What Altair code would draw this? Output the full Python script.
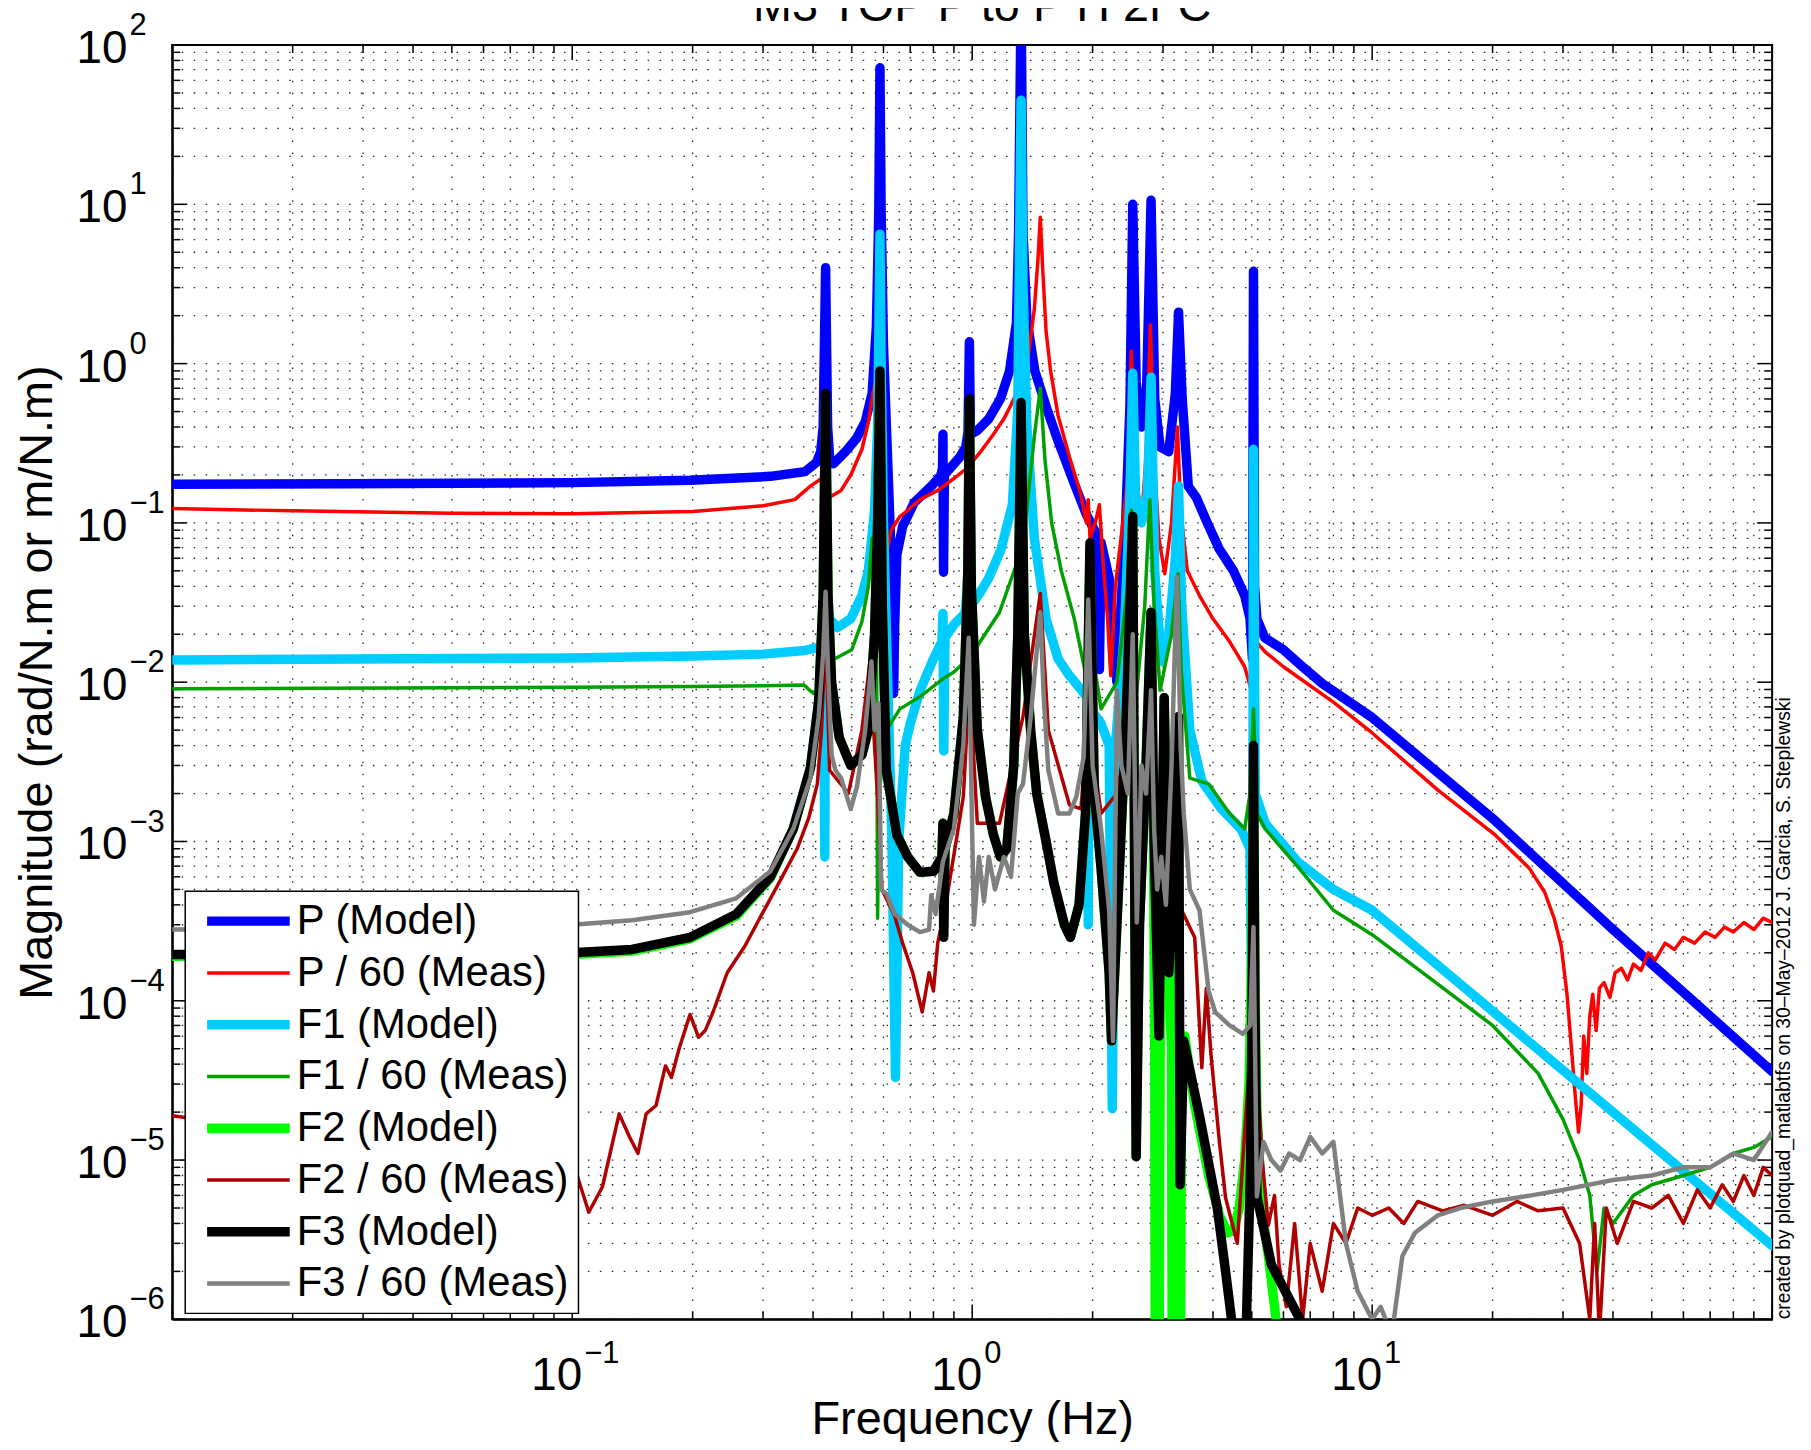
import altair as alt
import pandas as pd

W, H = 1607, 1280
FONT = "Liberation Sans"

TITLE = "M3 TOP P to P H 2FC"
X_TITLE = "Frequency (Hz)"
Y_TITLE = "Magnitude (rad/N.m or m/N.m)"
CREDIT = "created by plotquad_matlabtfs on 30\u2013May\u20132012 J. Garcia, S. Steplewski"

SERIES = ["P (Model)", "P / 60 (Meas)", "F1 (Model)", "F1 / 60 (Meas)",
          "F2 (Model)", "F2 / 60 (Meas)", "F3 (Model)", "F3 / 60 (Meas)"]
COLORS = ["#0000FF", "#FF0000", "#00CCFF", "#00A000",
          "#00FF00", "#B00000", "#000000", "#808080"]
WIDTHS = [9.5, 3.5, 9.5, 3.5, 9.5, 3.5, 9.5, 4.5]

# tick labels: base "10" with exponent
X_LABELS = [0.1, 1, 10]
X_EXP = ["\u22121", "0", "1"]
Y_LABELS = [1e-6, 1e-5, 1e-4, 1e-3, 1e-2, 1e-1, 1, 10, 100]
Y_EXP = ["\u22126", "\u22125", "\u22124", "\u22123", "\u22122", "\u22121", "0", "1", "2"]
X_DECADES = [0.01, 0.1, 1, 10, 100]
Y_DECADES = [1e-6, 1e-5, 1e-4, 1e-3, 1e-2, 1e-1, 1, 10, 100]
X_MINOR = [k * d for d in X_DECADES[:-1] for k in range(2, 10)]
Y_MINOR = [k * d for d in Y_DECADES[:-1] for k in range(2, 10)]

P_MODEL = [(0.01,0.175),(0.027,0.176),(0.1,0.179),(0.197,0.185),(0.313,0.196),(0.382,0.21),
    (0.408,0.24),(0.418,0.28),(0.424,0.4),(0.43,4.0),(0.435,0.4),(0.441,0.24),(0.45,0.235),
    (0.482,0.28),(0.514,0.34),(0.54,0.43),(0.562,0.65),(0.576,1.7),(0.584,9.0),(0.588,72),
    (0.592,9.0),(0.6,1.3),(0.612,0.33),(0.624,0.088),(0.632,0.023),(0.636,0.0085),(0.64,0.023),
    (0.648,0.063),(0.67,0.095),(0.716,0.134),(0.79,0.17),(0.833,0.196),(0.843,0.22),(0.845,0.36),
    (0.848,0.049),(0.852,0.2),(0.932,0.26),(0.964,0.3),(0.976,0.37),(0.984,1.37),(0.99,0.36),
    (1.03,0.38),(1.1,0.45),(1.176,0.6),(1.24,0.9),(1.29,1.8),(1.306,6.6),(1.325,200),(1.34,6.6),
    (1.37,1.9),(1.434,0.9),(1.533,0.53),(1.637,0.33),(1.81,0.17),(1.93,0.113),(2.03,0.088),
    (2.07,0.075),(2.08,0.012),(2.1,0.075),(2.2,0.045),(2.3,0.01),(2.42,0.104),(2.48,0.55),
    (2.52,10),(2.57,0.77),(2.65,0.4),(2.73,0.7),(2.8,10.6),(2.86,0.6),(2.95,0.3),(3.1,0.28),
    (3.22,0.65),(3.28,2.1),(3.35,0.6),(3.47,0.17),(3.63,0.145),(3.87,0.1),(4.14,0.069),(4.5,0.05),
    (4.8,0.035),(4.95,0.025),(5.02,0.014),(5.05,3.8),(5.08,0.04),(5.15,0.025),(5.39,0.019),
    (6.0,0.016),(6.58,0.013),(7.51,0.0098),(10,0.006),(20.3,0.00135),(40,2.8e-4),(100,3.6e-5)]

P_MEAS = [(0.01,0.123),(0.02,0.119),(0.05,0.115),(0.1,0.114),(0.2,0.118),(0.3,0.128),(0.36,0.14),
    (0.394,0.17),(0.42,0.19),(0.428,0.15),(0.44,0.145),(0.47,0.16),(0.497,0.2),(0.53,0.29),
    (0.55,0.43),(0.565,0.65),(0.575,0.82),(0.582,0.6),(0.59,0.2),(0.598,0.08),(0.603,0.054),
    (0.627,0.09),(0.66,0.11),(0.69,0.12),(0.74,0.14),(0.82,0.16),(0.9,0.19),(0.97,0.22),(1.05,0.28),
    (1.13,0.36),(1.2,0.45),(1.25,0.55),(1.3,0.68),(1.33,0.72),(1.38,1.1),(1.43,2.2),(1.46,4.5),
    (1.48,8.3),(1.5,4.0),(1.53,1.6),(1.57,0.9),(1.64,0.47),(1.75,0.26),(1.87,0.15),(1.93,0.1),
    (1.95,0.14),(1.97,0.08),(2.03,0.1),(2.08,0.13),(2.12,0.06),(2.18,0.025),(2.22,0.011),(2.28,0.04),
    (2.38,0.1),(2.45,0.2),(2.5,1.2),(2.55,0.25),(2.65,0.1),(2.73,0.3),(2.79,1.75),(2.84,0.3),
    (2.93,0.08),(3.03,0.048),(3.15,0.1),(3.26,0.4),(3.32,0.12),(3.45,0.05),(3.7,0.035),(4.0,0.025),
    (4.4,0.018),(4.8,0.0125),(4.98,0.009),(5.05,0.025),(5.12,0.018),(5.4,0.0155),(6.0,0.0125),
    (7.0,0.0095),(8.0,0.0075),(10,0.0048),(14.6,0.0021),(20.3,0.0011),(24.7,6.8e-4),(27,4.8e-4),
    (28.5,3.3e-4),(29.7,2.2e-4),(30.7,1.1e-4),(31.5,5e-5),(32.2,2.5e-5),(32.8,1.5e-5),(33.3,2.2e-5),
    (33.8,6e-5),(34.4,3.5e-5),(35,8e-5),(35.6,1.1e-4),(36.3,6.5e-5),(37,1.2e-4),(38,1.3e-4),
    (39.3,1.05e-4),(40.5,1.5e-4),(42,1.6e-4),(43.5,1.35e-4),(45,1.7e-4),(47,1.55e-4),(49,2.0e-4),
    (51,1.8e-4),(54,2.3e-4),(57,2.1e-4),(60,2.5e-4),(64,2.3e-4),(68,2.7e-4),(72,2.5e-4),(76,2.9e-4),
    (80,2.7e-4),(85,3.1e-4),(90,2.8e-4),(95,3.3e-4),(100,3.1e-4)]

F1_MODEL = [(0.01,0.0138),(0.1,0.0142),(0.2,0.0146),(0.3,0.015),(0.38,0.0158),(0.41,0.0165),
    (0.42,0.017),(0.425,0.012),(0.428,8e-4),(0.43,0.3),(0.433,0.04),(0.44,0.025),(0.46,0.022),
    (0.497,0.025),(0.53,0.035),(0.55,0.05),(0.57,0.12),(0.58,0.4),(0.585,2.0),(0.588,6.5),
    (0.592,1.0),(0.6,0.1),(0.615,0.01),(0.63,0.001),(0.643,3.3e-5),(0.655,0.001),(0.68,0.004),
    (0.7,0.0055),(0.74,0.0088),(0.8,0.014),(0.84,0.018),(0.845,0.027),(0.849,0.0037),(0.855,0.019),
    (0.9,0.023),(0.96,0.027),(0.984,0.06),(0.99,0.03),(1.05,0.037),(1.1,0.045),(1.18,0.068),
    (1.26,0.13),(1.3,0.5),(1.325,45),(1.34,3),(1.37,0.4),(1.43,0.08),(1.53,0.025),(1.64,0.014),
    (1.75,0.011),(1.87,0.009),(1.94,0.008),(1.95,3e-4),(1.96,0.007),(2.1,0.0055),(2.2,0.004),
    (2.24,2.1e-5),(2.28,0.004),(2.4,0.02),(2.48,0.15),(2.52,0.87),(2.56,0.15),(2.65,0.1),
    (2.74,0.15),(2.8,0.82),(2.86,0.05),(2.97,0.0135),(3.1,0.02),(3.22,0.06),(3.28,0.17),(3.34,0.03),
    (3.5,0.005),(3.75,0.0024),(4.2,0.0016),(4.7,0.0012),(4.95,9e-4),(5.02,3.8e-5),(5.05,0.29),
    (5.1,0.002),(5.4,0.0013),(6.5,7.5e-4),(8.0,5e-4),(10,3.7e-4),(20,8.6e-5),(50,1.25e-5),(100,2.9e-6)]

F1_MEAS = [(0.01,0.0091),(0.1,0.0093),(0.2,0.0094),(0.3,0.0095),(0.38,0.0096),(0.394,0.0088),
    (0.41,0.0082),(0.42,0.008),(0.43,0.02),(0.44,0.0135),(0.5,0.016),(0.53,0.024),(0.55,0.04),
    (0.562,0.08),(0.57,0.035),(0.577,0.0135),(0.58,3.3e-4),(0.585,0.002),(0.61,0.005),(0.66,0.0068),
    (0.74,0.0081),(0.845,0.0105),(0.9,0.0116),(0.99,0.0145),(1.17,0.0275),(1.34,0.072),(1.43,0.35),
    (1.48,0.7),(1.52,0.25),(1.58,0.1),(1.67,0.05),(1.8,0.025),(1.94,0.01),(2.0,0.015),(2.1,0.0068),
    (2.3,0.01),(2.45,0.04),(2.5,0.12),(2.57,0.0081),(2.7,0.03),(2.78,0.14),(2.85,0.03),(2.95,0.0089),
    (3.15,0.02),(3.27,0.048),(3.33,0.012),(3.5,0.0025),(3.9,0.0023),(4.4,0.0015),(4.8,0.0012),
    (4.95,0.002),(5.05,0.0068),(5.15,0.0015),(5.4,0.0012),(6.5,7e-4),(8,3.7e-4),(10,2.6e-4),
    (20,7e-5),(26,3.5e-5),(30,1.8e-5),(33,1e-5),(35,6e-6),(36.5,2e-6),(38,5e-6),(40,4e-6),(45,6e-6),
    (50,7e-6),(60,8e-6),(70,9e-6),(80,1.1e-5),(90,1.2e-5),(100,1.4e-5)]

F2_MODEL = [(0.01,1.9e-4),(0.05,1.92e-4),(0.1,1.95e-4),(0.141,2.05e-4),(0.197,2.45e-4),
    (0.257,3.4e-4),(0.313,5.9e-4),(0.357,1.2e-3),(0.394,2.9e-3),(0.413,0.0075),(0.424,0.035),
    (0.43,0.6),(0.436,0.035),(0.445,0.01),(0.465,0.0045),(0.497,0.003),(0.53,0.0035),(0.55,0.005),
    (0.57,0.02),(0.58,0.1),(0.588,0.8),(0.596,0.03),(0.61,0.0028),(0.648,0.0011),(0.69,8e-4),
    (0.74,6.4e-4),(0.8,6.5e-4),(0.84,8e-4),(0.845,1.3e-3),(0.849,2.9e-4),(0.855,9e-4),(0.9,0.0015),
    (0.95,0.006),(0.975,0.05),(0.984,0.5),(0.995,0.04),(1.03,0.005),(1.08,0.0019),(1.13,0.0011),
    (1.176,8e-4),(1.22,9e-4),(1.27,0.003),(1.3,0.02),(1.325,0.5),(1.35,0.02),(1.4,0.005),
    (1.45,0.002),(1.53,0.001),(1.6,5.5e-4),(1.7,3e-4),(1.76,2.5e-4),(1.85,4e-4),(1.92,0.0015),
    (1.97,0.07),(2.02,0.002),(2.1,6.8e-4),(2.2,1.5e-4),(2.23,5.6e-5),(2.3,3e-4),(2.42,0.005),
    (2.52,0.1),(2.57,1.05e-5),(2.62,3e-4),(2.72,0.003),(2.8,0.0275),(2.84,1e-3),(2.86,5e-5),
    (2.87,2e-7),(2.885,5e-5),(2.9,2e-7),(2.915,4e-5),(2.93,2e-7),(2.95,5e-5),(3.02,0.008),
    (3.1,1.5e-4),(3.15,5e-5),(3.165,2e-7),(3.18,5e-5),(3.195,2e-7),(3.21,5e-5),(3.225,2e-7),
    (3.24,5e-5),(3.28,0.006),(3.31,2e-7),(3.34,5e-5),(3.4,6e-5),(3.6,2.2e-5),(3.9,8e-6),
    (4.15,4.5e-6),(4.35,3.5e-6),(4.5,3.6e-6),(4.65,5e-6),(4.8,1e-5),(4.92,3e-5),(5.0,2e-4),
    (5.05,0.003),(5.1,1e-4),(5.15,2e-5),(5.3,5e-6),(5.5,2.5e-6),(5.75,1e-6),(6.0,5e-7)]

F2_MEAS = [(0.01,1.9e-5),(0.02,1.5e-5),(0.05,1.2e-5),(0.08,1.1e-5),(0.1,1.0e-5),(0.11,4.7e-6),
    (0.119,6.8e-6),(0.131,1.95e-5),(0.139,1.4e-5),(0.146,1.1e-5),(0.153,1.95e-5),(0.162,2.2e-5),
    (0.171,3.9e-5),(0.177,3.3e-5),(0.185,5e-5),(0.197,8.2e-5),(0.207,5.9e-5),(0.215,6.5e-5),
    (0.225,8.5e-5),(0.244,1.5e-4),(0.27,2.2e-4),(0.3,3.6e-4),(0.33,5.6e-4),(0.365,9e-4),
    (0.39,1.4e-3),(0.41,2.3e-3),(0.42,0.005),(0.43,0.02),(0.44,0.0028),(0.49,0.002),(0.53,0.005),
    (0.555,0.0135),(0.57,0.004),(0.58,0.0019),(0.595,5e-4),(0.64,3.4e-4),(0.67,2.3e-4),(0.71,1.5e-4),
    (0.75,8.5e-5),(0.78,1.5e-4),(0.8,1.15e-4),(0.82,2.3e-4),(0.86,4.1e-4),(0.95,0.0019),(0.985,0.01),
    (1.03,0.0013),(1.17,0.0013),(1.34,0.0061),(1.48,0.036),(1.55,0.005),(1.75,0.0017),(1.87,0.0016),
    (1.95,0.006),(2.1,0.0015),(2.3,0.002),(2.5,0.0061),(2.6,0.002),(2.8,0.003),(3.0,5e-4),
    (3.34,3.7e-4),(3.6,2.5e-4),(3.75,3.8e-5),(3.85,1.2e-4),(3.95,4.7e-5),(4.15,1.3e-5),(4.3,5.8e-6),
    (4.6,3e-6),(5.05,1e-4),(5.3,1.06e-5),(5.5,3.9e-6),(5.7,6e-6),(5.85,2.2e-6),(6.1,1.2e-6),
    (6.4,4e-6),(6.7,1e-6),(7.0,3e-6),(7.5,1.5e-6),(8,4e-6),(8.6,3e-6),(9.2,5e-6),(10,4.5e-6),
    (11,5e-6),(12,4e-6),(13,5.5e-6),(15,4.8e-6),(17,5.2e-6),(20,4.5e-6),(23,5.5e-6),(26,4.8e-6),
    (30,5e-6),(33,3e-6),(35,1e-6),(36,4e-6),(37,8e-7),(38.5,5e-6),(41,3e-6),(45,5.5e-6),(50,5e-6),
    (55,6e-6),(60,4e-6),(65,6.5e-6),(70,5e-6),(75,7e-6),(80,5.5e-6),(85,8e-6),(90,6e-6),(95,9e-6),
    (100,8e-6)]

F3_MODEL = [(0.01,1.95e-4),(0.05,1.97e-4),(0.1,2.0e-4),(0.141,2.1e-4),(0.197,2.5e-4),(0.257,3.5e-4),
    (0.313,6e-4),(0.357,1.2e-3),(0.394,2.9e-3),(0.413,0.0075),(0.424,0.035),(0.43,0.65),(0.436,0.035),
    (0.445,0.01),(0.465,0.0045),(0.497,0.003),(0.53,0.0035),(0.55,0.005),(0.57,0.02),(0.58,0.1),
    (0.588,0.9),(0.596,0.03),(0.61,0.0028),(0.648,0.0011),(0.69,8e-4),(0.74,6.4e-4),(0.8,6.5e-4),
    (0.84,8e-4),(0.845,1.3e-3),(0.849,2.5e-4),(0.855,9e-4),(0.9,0.0015),(0.95,0.006),(0.975,0.05),
    (0.984,0.6),(0.995,0.04),(1.03,0.005),(1.08,0.0019),(1.13,0.0011),(1.176,8e-4),(1.22,9e-4),
    (1.27,0.003),(1.3,0.02),(1.325,0.57),(1.35,0.02),(1.4,0.005),(1.45,0.002),(1.53,0.001),
    (1.6,5.5e-4),(1.7,3e-4),(1.76,2.5e-4),(1.85,4e-4),(1.92,0.0015),(1.97,0.075),(2.02,0.002),
    (2.1,6.8e-4),(2.2,1.5e-4),(2.23,5.6e-5),(2.3,3e-4),(2.42,0.005),(2.52,0.11),(2.57,1.05e-5),
    (2.62,3e-4),(2.72,0.003),(2.8,0.0275),(2.85,1e-3),(2.93,6e-5),(3.02,0.008),(3.1,1.5e-4),
    (3.2,8e-4),(3.28,0.0061),(3.31,7e-6),(3.38,5.6e-5),(3.7,1.9e-5),(4.1,5e-6),(4.3,2e-6),
    (4.45,1e-6),(4.7,6e-7),(4.85,1e-6),(4.97,1e-5),(5.02,2e-4),(5.05,0.004),(5.09,1e-4),
    (5.15,5.9e-6),(5.6,2.2e-6),(6.6,1e-6),(7.5,5e-7)]

F3_MEAS = [(0.01,2.8e-4),(0.03,2.85e-4),(0.1,3.0e-4),(0.141,3.2e-4),(0.197,3.6e-4),(0.257,4.4e-4),
    (0.313,6.5e-4),(0.357,0.0012),(0.394,0.0025),(0.413,0.006),(0.424,0.015),(0.43,0.037),
    (0.436,0.012),(0.445,0.0035),(0.455,0.0028),(0.47,0.0025),(0.497,0.0016),(0.515,0.0022),
    (0.54,0.005),(0.56,0.0135),(0.57,0.005),(0.577,0.006),(0.583,0.0074),(0.592,5e-4),(0.61,4.7e-4),
    (0.64,3.5e-4),(0.69,3.0e-4),(0.74,2.7e-4),(0.78,2.8e-4),(0.79,4.6e-4),(0.81,3.5e-4),
    (0.845,7.5e-4),(0.9,0.0012),(0.95,0.004),(0.98,0.019),(0.997,0.0017),(1.01,3e-4),(1.04,8e-4),
    (1.07,4.2e-4),(1.1,8e-4),(1.14,5e-4),(1.2,8e-4),(1.25,6e-4),(1.3,0.002),(1.34,0.0023),
    (1.4,0.006),(1.48,0.0275),(1.51,0.008),(1.55,0.0028),(1.64,0.0015),(1.75,0.0015),(1.82,0.0019),
    (1.9,0.0034),(1.95,0.033),(2.0,0.003),(2.1,0.0012),(2.2,3.7e-4),(2.25,5.6e-5),(2.3,0.0089),
    (2.36,0.003),(2.45,0.002),(2.52,0.02),(2.58,3.1e-4),(2.65,0.003),(2.72,0.002),(2.8,0.0089),
    (2.85,0.0012),(2.9,5e-4),(2.97,8e-4),(3.05,4e-4),(3.15,0.003),(3.25,0.046),(3.32,0.004),
    (3.38,0.0015),(3.5,5e-4),(3.7,3.7e-4),(3.9,1.15e-4),(4.05,8.5e-5),(4.4,7e-5),(4.75,6.2e-5),
    (4.95,7e-5),(5.05,2.9e-4),(5.15,5.9e-6),(5.35,1.3e-5),(5.6,1e-5),(5.9,8.6e-6),(6.2,1.1e-5),
    (6.6,1e-5),(7.0,1.4e-5),(7.5,1.1e-5),(8.0,1.3e-5),(8.6,3e-6),(9.2,1.5e-6),(10,1e-6),
    (10.5,1.2e-6),(11.2,8e-7),(11.9,2.5e-6),(12.8,3.5e-6),(14.6,4.5e-6),(16.6,5e-6),(20,5.5e-6),
    (25,6e-6),(30,6.5e-6),(40,7.5e-6),(50,8e-6),(60,9e-6),(70,9e-6),(80,1.1e-5),(90,1e-5),(100,1.5e-5)]

DATA = [P_MODEL, P_MEAS, F1_MODEL, F1_MEAS, F2_MODEL, F2_MEAS, F3_MODEL, F3_MEAS]

rows = []
for name, pts in zip(SERIES, DATA):
    for i, (f, m) in enumerate(pts):
        rows.append({"series": name, "f": f, "m": m, "i": i})
df = pd.DataFrame(rows)

XS = alt.Scale(type="log", domain=[0.01, 100], nice=False)
YS = alt.Scale(type="log", domain=[1e-6, 100], nice=False)

AX = alt.Axis(values=X_LABELS, labels=False, ticks=False, tickSize=0, grid=False, domain=True,
              domainColor="black", domainWidth=2, title=X_TITLE, titleFont=FONT, titleFontSize=47,
              titleFontWeight="normal", titleColor="black", titleY=115, titleBaseline="alphabetic")
AY = alt.Axis(values=Y_LABELS, labels=False, ticks=False, tickSize=0, grid=False, domain=True,
              domainColor="black", domainWidth=2, title=Y_TITLE, titleFont=FONT, titleFontSize=47,
              titleFontWeight="normal", titleColor="black", titleX=-135, titleY=H / 2,
              titleAngle=270, titleBaseline="middle", titleAlign="center")

GRID_STYLE = dict(color="black", strokeWidth=1.3, strokeDash=[1.5, 10.5], opacity=0.85)

def vgrid(vals):
    return alt.Chart(pd.DataFrame({"v": vals})).mark_rule(**GRID_STYLE).encode(
        x=alt.X("v:Q", scale=XS, axis=AX))

def hgrid(vals):
    return alt.Chart(pd.DataFrame({"v": vals})).mark_rule(**GRID_STYLE).encode(
        y=alt.Y("v:Q", scale=YS, axis=AY))

def ticks(vals, side, length):
    c = alt.Chart(pd.DataFrame({"v": vals})).mark_rule(color="black", strokeWidth=1.5)
    if side == "left":
        return c.encode(y=alt.Y("v:Q", scale=YS, axis=AY), x=alt.value(0), x2=alt.value(length))
    if side == "right":
        return c.encode(y=alt.Y("v:Q", scale=YS, axis=AY), x=alt.value(W - length), x2=alt.value(W))
    if side == "bottom":
        return c.encode(x=alt.X("v:Q", scale=XS, axis=AX), y=alt.value(H - length), y2=alt.value(H))
    return c.encode(x=alt.X("v:Q", scale=XS, axis=AX), y=alt.value(0), y2=alt.value(length))

# tick labels as "10" plus raised exponent
ydf = pd.DataFrame({"v": Y_LABELS, "e": Y_EXP})
xdf = pd.DataFrame({"v": X_LABELS, "e": X_EXP})
ylab_base = alt.Chart(ydf).mark_text(align="right", baseline="alphabetic", fontSize=46, font=FONT,
                                     color="black", dy=18).encode(
    y=alt.Y("v:Q", scale=YS, axis=AY), x=alt.value(-45), text=alt.value("10"))
ylab_exp = alt.Chart(ydf).mark_text(align="left", baseline="alphabetic", fontSize=31, font=FONT,
                                    color="black", dy=-10).encode(
    y=alt.Y("v:Q", scale=YS, axis=AY), x=alt.value(-43), text="e:N")
xlab_base = alt.Chart(xdf).mark_text(align="right", baseline="alphabetic", fontSize=46, font=FONT,
                                     color="black", dx=10).encode(
    x=alt.X("v:Q", scale=XS, axis=AX), y=alt.value(H + 71), text=alt.value("10"))
xlab_exp = alt.Chart(xdf).mark_text(align="left", baseline="alphabetic", fontSize=31, font=FONT,
                                    color="black", dx=12).encode(
    x=alt.X("v:Q", scale=XS, axis=AX), y=alt.value(H + 44), text="e:N")

LEG = alt.Legend(orient="none", legendX=13, legendY=850, title=None, symbolType="stroke",
                 symbolSize=6889, labelFont=FONT, labelFontSize=42, labelColor="black",
                 labelLimit=600, padding=9, symbolOffset=8, labelOffset=2, rowPadding=10,
                 clipHeight=42, strokeColor="black", fillColor="white", cornerRadius=0)

color = alt.Color("series:N", scale=alt.Scale(domain=SERIES, range=COLORS), legend=LEG)
swidth = alt.StrokeWidth("series:N", scale=alt.Scale(type="ordinal", domain=SERIES, range=WIDTHS),
                         legend=LEG)

line_layers = []
for name in SERIES:
    line_layers.append(
        alt.Chart(df).transform_filter(alt.datum.series == name)
        .mark_line(clip=True, strokeJoin="round", strokeCap="round")
        .encode(x=alt.X("f:Q", scale=XS, axis=AX), y=alt.Y("m:Q", scale=YS, axis=AY),
                color=color, strokeWidth=swidth, order="i:Q"))

credit = alt.Chart(pd.DataFrame({"t": [CREDIT]})).mark_text(
    angle=270, align="left", baseline="alphabetic", fontSize=19.4, font=FONT, color="black"
).encode(text="t:N", x=alt.value(W + 18), y=alt.value(H))

title = alt.Chart(pd.DataFrame({"t": [TITLE]})).mark_text(
    align="center", baseline="alphabetic", fontSize=47, font=FONT, color="black"
).encode(text="t:N", x=alt.value(W / 2 + 10), y=alt.value(-24))

chart = alt.layer(
    vgrid(X_DECADES + X_MINOR), hgrid(Y_DECADES + Y_MINOR),
    ticks(Y_DECADES, "left", 15), ticks(Y_MINOR, "left", 8),
    ticks(Y_DECADES, "right", 15), ticks(Y_MINOR, "right", 8),
    ticks(X_DECADES, "bottom", 15), ticks(X_MINOR, "bottom", 8),
    ticks(X_DECADES, "top", 15), ticks(X_MINOR, "top", 8),
    *line_layers, ylab_base, ylab_exp, xlab_base, xlab_exp, credit, title
).properties(
    width=W, height=H,
    autosize=alt.AutoSizeParams(type="none"),
    padding={"left": 165, "top": 34, "right": 31, "bottom": 120},
).configure_view(stroke="black", strokeWidth=2).configure_legend(strokeWidth=1.5)

chart.save("out.html", embed_options={"renderer": "svg", "actions": False})
